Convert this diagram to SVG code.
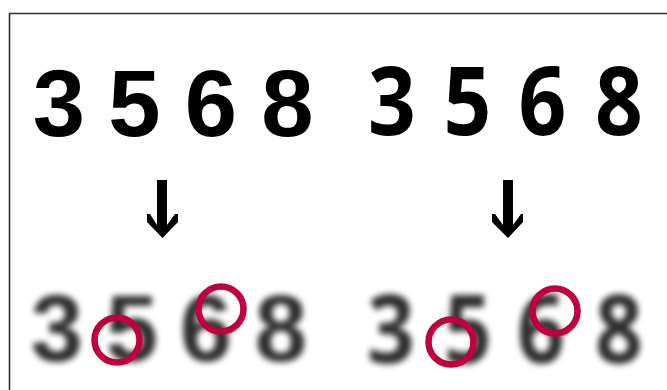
<svg xmlns="http://www.w3.org/2000/svg" width="667" height="390" viewBox="0 0 667 390">
<style>
.a{font-family:"Liberation Sans",Arial,sans-serif;font-weight:bold;font-size:94px;fill:#000;text-anchor:middle}
.b{font-family:"Open Sans","DejaVu Sans",sans-serif;font-weight:bold;font-size:95px;fill:#000;text-anchor:middle}
.ring{fill:none;stroke:#C0003C;stroke-width:6.5}
.arr{fill:#000}
</style>
<defs>
<filter id="blur" x="-10%" y="-20%" width="120%" height="140%"><feGaussianBlur stdDeviation="3.4"/></filter>
</defs>
<rect width="667" height="390" fill="#fff"/>
<path d="M9.5 390V13.5H667" fill="none" stroke="#333" stroke-width="1.6"/>
<g id="left-sharp">
<text class="a" x="59" y="136">3</text>
<text class="a" x="134.5" y="136">5</text>
<text class="a" x="211" y="136">6</text>
<text class="a" x="287.5" y="136">8</text>
</g>
<g id="right-sharp">
<text class="b" x="392" y="135" transform="matrix(0.88 0 0 1 47.04 0)">3</text>
<text class="b" x="467.5" y="135" transform="matrix(0.88 0 0 1 56.1 0)">5</text>
<text class="b" x="542.5" y="135" transform="matrix(0.88 0 0 1 65.1 0)">6</text>
<text class="b" x="619" y="135" transform="matrix(0.88 0 0 1 74.28 0)">8</text>
</g>
<g id="left-blurred">
<g filter="url(#blur)" opacity="0.82">
<text class="a" x="57" y="361" font-size="88">3</text>
<text class="a" x="132" y="361" font-size="88">5</text>
<text class="a" x="206" y="361" font-size="88">6</text>
<text class="a" x="281" y="361" font-size="88">8</text>
</g>
<circle class="ring" cx="117" cy="340" r="22.5"/>
<circle class="ring" cx="221" cy="309" r="22.5"/>
</g>
<g id="right-blurred">
<g filter="url(#blur)" opacity="0.82">
<text class="b" x="391" y="363" font-size="93" transform="matrix(0.88 0 0 1 46.92 0)">3</text>
<text class="b" x="468" y="363" font-size="93" transform="matrix(0.88 0 0 1 56.16 0)">5</text>
<text class="b" x="541" y="363" font-size="93" transform="matrix(0.88 0 0 1 64.92 0)">6</text>
<text class="b" x="619" y="363" font-size="93" transform="matrix(0.88 0 0 1 74.28 0)">8</text>
</g>
<circle class="ring" cx="451" cy="342" r="22.5"/>
<circle class="ring" cx="555" cy="311" r="22.5"/>
</g>
<g id="connectors">
<path class="arr" d="M157 180H167V225L175 214H178V222L162.5 238L147 222V214H150L157 225Z"/>
<path class="arr" d="M503 180H513V225L521 214H523V222L508 238L492 222V214H495L503 225Z"/>
</g>
</svg>
